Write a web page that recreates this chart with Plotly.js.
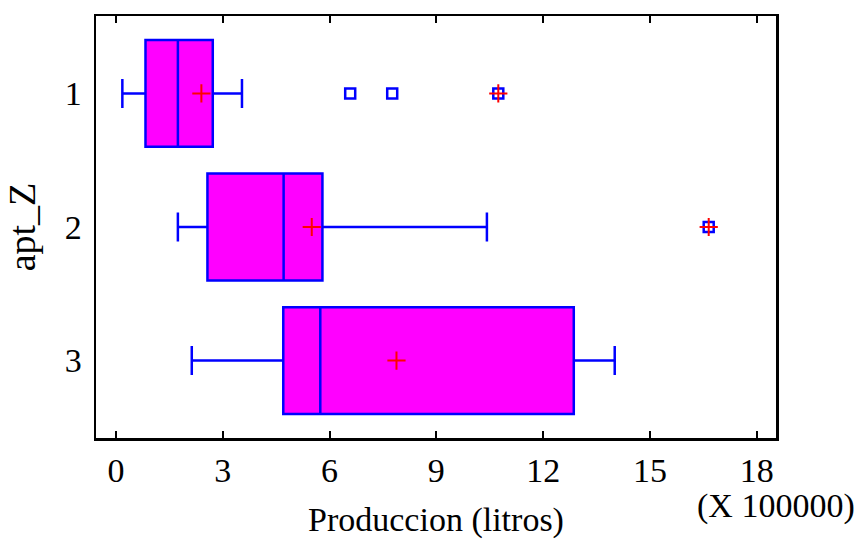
<!DOCTYPE html>
<html>
<head>
<meta charset="utf-8">
<script src="https://cdn.plot.ly/plotly-3.0.1.min.js"></script>
<style>
  html, body { margin: 0; padding: 0; background: #fff; }
  #chart { width: 860px; height: 539px; }
</style>
</head>
<body>
<div id="chart"></div>
<script>
// Production (litres, in units of 100000) by apt_Z group
const groups = [1, 2, 3];
const groupLabels = ['1', '2', '3'];
const lowerWhisker = [0.18, 1.74, 2.13];
const q1 = [0.83, 2.57, 4.70];
const median = [1.74, 4.71, 5.74];
const q3 = [2.72, 5.80, 12.86];
const upperWhisker = [3.54, 10.42, 14.01];
const means = [2.40, 5.50, 7.88];

// outside points
const outsideX = [6.58, 7.76];
const outsideY = [1, 1];
// far outside points (square with a plus)
const farX = [10.74, 16.65];
const farY = [1, 2];

const xTicks = [0, 3, 6, 9, 12, 15, 18];

const serif = 'Liberation Serif, Times New Roman, serif';
const blue = '#0000ff';
const red = '#ff0000';

const traces = [
  {
    type: 'box',
    orientation: 'h',
    y: groups,
    q1: q1,
    median: median,
    q3: q3,
    lowerfence: lowerWhisker,
    upperfence: upperWhisker,
    width: 0.8,
    whiskerwidth: 0.27,
    fillcolor: '#ff00ff',
    line: { color: blue, width: 2.5 },
    boxpoints: false,
    hoverinfo: 'x',
    showlegend: false
  },
  {
    type: 'scatter',
    mode: 'markers',
    x: outsideX,
    y: outsideY,
    marker: { symbol: 'square-open', size: 10, color: blue, line: { width: 2.5, color: blue } },
    showlegend: false
  },
  {
    type: 'scatter',
    mode: 'markers',
    x: farX,
    y: farY,
    marker: { symbol: 'square-open', size: 10, color: blue, line: { width: 2.5, color: blue } },
    showlegend: false
  },
  {
    type: 'scatter',
    mode: 'markers',
    x: farX,
    y: farY,
    marker: { symbol: 'cross-thin', size: 13, color: red, line: { width: 2, color: red } },
    showlegend: false
  },
  {
    type: 'scatter',
    mode: 'markers',
    x: means,
    y: groups,
    marker: { symbol: 'cross-thin', size: 13, color: red, line: { width: 2, color: red } },
    showlegend: false
  }
];

const layout = {
  width: 860,
  height: 539,
  margin: { l: 96, r: 84, t: 16, b: 101 },
  paper_bgcolor: '#ffffff',
  plot_bgcolor: '#ffffff',
  font: { family: serif, color: '#000000', size: 34 },
  showlegend: false,
  xaxis: {
    range: [-0.56, 18.54],
    tickvals: xTicks,
    ticktext: xTicks.map(String),
    ticks: 'inside',
    ticklen: 7,
    tickwidth: 2,
    tickcolor: '#000',
    showline: true,
    linewidth: 2.5,
    linecolor: '#000',
    mirror: 'ticks',
    showgrid: false,
    zeroline: false,
    ticklabelstandoff: 1,
    tickfont: { family: serif, size: 34 },
    title: { text: 'Produccion (litros)', font: { family: serif, size: 34 }, standoff: 19 },
    automargin: false
  },
  yaxis: {
    range: [3.58, 0.42],
    tickvals: groups,
    ticktext: groupLabels,
    ticks: '',
    showline: true,
    linewidth: 2.5,
    linecolor: '#000',
    mirror: true,
    showgrid: false,
    zeroline: false,
    ticklabelstandoff: 5,
    tickfont: { family: serif, size: 34 },
    title: { text: 'apt_Z', font: { family: serif, size: 38 }, standoff: 18 },
    automargin: false
  },
  annotations: [
    {
      xref: 'paper', yref: 'paper',
      x: 1.0, y: -0.16,
      xanchor: 'center', yanchor: 'middle',
      text: '(X 100000)',
      showarrow: false,
      font: { family: serif, size: 34, color: '#000' }
    }
  ]
};

Plotly.newPlot('chart', traces, layout, { displayModeBar: false, staticPlot: true });
</script>
</body>
</html>
